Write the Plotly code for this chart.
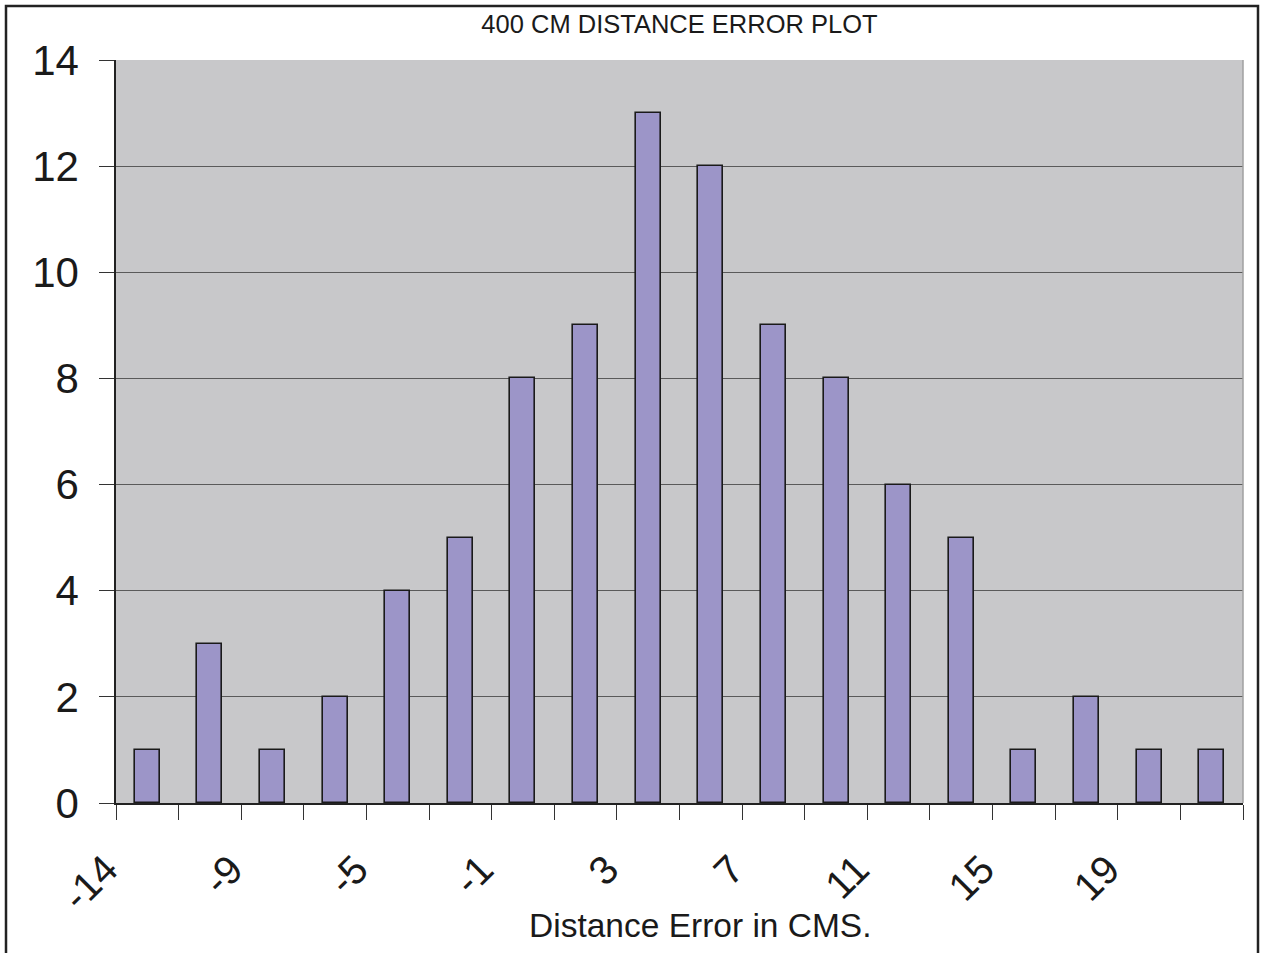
import plotly.graph_objects as go

# ---- data ----
categories = [-14, -11, -9, -7, -5, -3, -1, 1, 3, 5, 7, 9, 11, 13, 15, 17, 19, 21]
counts = [1, 3, 1, 2, 4, 5, 8, 9, 13, 12, 9, 8, 6, 5, 1, 2, 1, 1]
y_ticks = [0, 2, 4, 6, 8, 10, 12, 14]
title_text = "400 CM DISTANCE ERROR PLOT"
x_title = "Distance Error in CMS."

n = len(categories)
bar_x = [i + 0.5 for i in range(n)]
tick_vals = list(range(n + 1))
tick_text = [str(categories[i]) if (i < n and i % 2 == 0) else "" for i in tick_vals]

W, H = 1261, 953
L, R, T, B = 116, 1243, 60, 803

FONT = "Liberation Sans, Arial, sans-serif"

fig = go.Figure()
fig.add_trace(go.Bar(
    x=bar_x, y=counts, width=0.4,
    marker=dict(color="#9c95c8", line=dict(color="#1a1a1a", width=1.6)),
    hoverinfo="x+y",
))

fig.update_layout(
    width=W, height=H,
    margin=dict(l=L, r=W - R, t=T, b=H - B, pad=0),
    paper_bgcolor="white",
    plot_bgcolor="#c8c8ca",
    showlegend=False,
    font=dict(family=FONT, color="#1a1a1a"),
    bargap=0,
    title=dict(text=title_text, x=0.5, xref="paper", xanchor="center",
               y=1 - 24 / H, yref="container", yanchor="middle",
               font=dict(size=25.5, family=FONT, color="#1a1a1a")),
    xaxis=dict(
        range=[0, n], tickmode="array", tickvals=tick_vals, ticktext=tick_text,
        tickangle=-45, ticks="outside", ticklen=15, tickcolor="#333", tickwidth=1,
        showgrid=False, zeroline=False, showline=True, linecolor="#222", linewidth=1.5,
        tickfont=dict(size=40, family=FONT, color="#1a1a1a"),
        ticklabelstandoff=10, ticklabelshift=-10,
    ),
    yaxis=dict(
        range=[0, 14], tickmode="array", tickvals=y_ticks,
        ticks="outside", ticklen=15, tickcolor="#333", tickwidth=1,
        showgrid=True, gridcolor="#5a5a5a", gridwidth=1,
        zeroline=False, showline=True, linecolor="#222", linewidth=1.5,
        tickfont=dict(size=42, family=FONT, color="#1a1a1a"),
        ticklabelstandoff=12,
    ),
)

# x-axis title as annotation (slightly off-centre in reference)
fig.add_annotation(
    text=x_title, xref="paper", yref="paper",
    x=(700 - L) / (R - L), y=(B - 925) / (B - T),
    xanchor="center", yanchor="middle", showarrow=False,
    font=dict(size=33.5, family=FONT, color="#1a1a1a"),
)

# plot-area right edge (light grey)
fig.add_shape(type="line", xref="paper", yref="paper", x0=1, x1=1, y0=0, y1=1,
              line=dict(color="#a0a0a0", width=1.5), layer="above")

# outer chart border
def px_x(p):
    return (p - L) / (R - L)

def px_y(p):
    return (B - p) / (B - T)

fig.add_shape(type="rect", xref="paper", yref="paper",
              x0=px_x(6), x1=px_x(1258), y0=px_y(970), y1=px_y(6),
              line=dict(color="#222", width=2.5), fillcolor="rgba(0,0,0,0)", layer="above")

fig.write_html("out.html")
